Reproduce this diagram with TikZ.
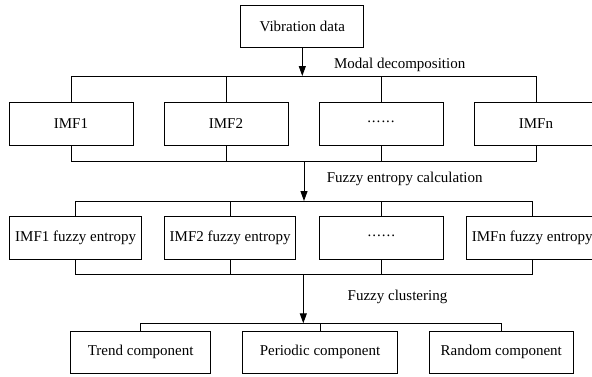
\documentclass[tikz,border=0pt]{standalone}
\usepackage{fontspec}
\setmainfont{Liberation Serif}
\usetikzlibrary{arrows.meta}
\newcommand\sixdots{\raisebox{0.33em}{.\kern1pt.\kern1pt.\kern1pt.\kern1pt.\kern1pt.}}
\begin{document}
\begin{tikzpicture}[x=1pt,y=-1pt,line width=1pt,
  box/.style={draw,inner sep=0pt,minimum height=42.3pt,font=\fontsize{15}{18}\selectfont},
  lbl/.style={inner sep=0pt,font=\fontsize{15}{18}\selectfont},
  flow/.style={-{Triangle[length=10pt,width=7pt]}}]
\useasboundingbox (0,0) rectangle (592,376);
\clip (0,0) rectangle (592,376);

% source
\node[box,minimum width=123.3pt,minimum height=41.3pt] (vib) at (302.3,26.6) {Vibration data};

% decomposed modes
\node[box,minimum width=124pt] (imf1) at (71,123.9) {IMF1};
\node[box,minimum width=124pt] (imf2) at (226,123.9) {IMF2};
\node[box,minimum width=124pt] (imfd) at (381,123.9) {\sixdots};
\node[box,minimum width=124pt] (imfn) at (536,123.9) {IMFn};

% entropy of each mode
\node[box,minimum width=131.3pt,minimum height=42.6pt] (fe1) at (75.6,238) {IMF1 fuzzy entropy};
\node[box,minimum width=131.7pt,minimum height=42.6pt] (fe2) at (230.1,238) {IMF2 fuzzy entropy};
\node[box,minimum width=124pt,minimum height=42.6pt] (fed) at (381.3,238) {\sixdots};
\node[box,minimum width=131.3pt,minimum height=42.6pt] (fen) at (532.3,238) {IMFn fuzzy entropy};

% clustered components
\node[box,minimum width=140pt,minimum height=42pt] (trend) at (140.7,352) {Trend component};
\node[box,minimum width=154.6pt,minimum height=42pt] (period) at (320,352) {Periodic component};
\node[box,minimum width=144.3pt,minimum height=42pt] (random) at (501.2,352) {Random component};

% junctions on the buses
\coordinate (b1) at (302.3,76);
\coordinate (b2) at (304,161.7);
\coordinate (b3) at (304,201);
\coordinate (b4) at (303.3,274.3);
\coordinate (b5) at (303.3,323.3);

% bus 1: split into modes
\draw[flow] (vib.south) -- (b1);
\draw (imf1.north) |- (imfn.north |- b1) -- (imfn.north);
\draw (imf2.north) -- (imf2.north |- b1);
\draw (imfd.north) -- (imfd.north |- b1);
\node[lbl] (l1) at (399.7,65) {Modal decomposition};

% bus 2 and 3: entropy calculation
\draw (imf1.south) |- (imfn.south |- b2) -- (imfn.south);
\draw (imf2.south) -- (imf2.south |- b2);
\draw (imfd.south) -- (imfd.south |- b2);
\draw[flow] (b2) -- (b3);
\draw (fe1.north) |- (fen.north |- b3) -- (fen.north);
\draw (fe2.north) -- (fe2.north |- b3);
\draw (fed.north) -- (fed.north |- b3);
\node[lbl] (l2) at (404.7,179.3) {Fuzzy entropy calculation};

% bus 4 and 5: clustering
\draw (fe1.south) |- (fen.south |- b4) -- (fen.south);
\draw (fe2.south) -- (fe2.south |- b4);
\draw (fed.south) -- (fed.south |- b4);
\draw[flow] (b4) -- (b5);
\draw (trend.north) |- (random.north |- b5) -- (random.north);
\draw (period.north) -- (period.north |- b5);
\node[lbl] (l3) at (397.5,297) {Fuzzy clustering};
\end{tikzpicture}
\end{document}
